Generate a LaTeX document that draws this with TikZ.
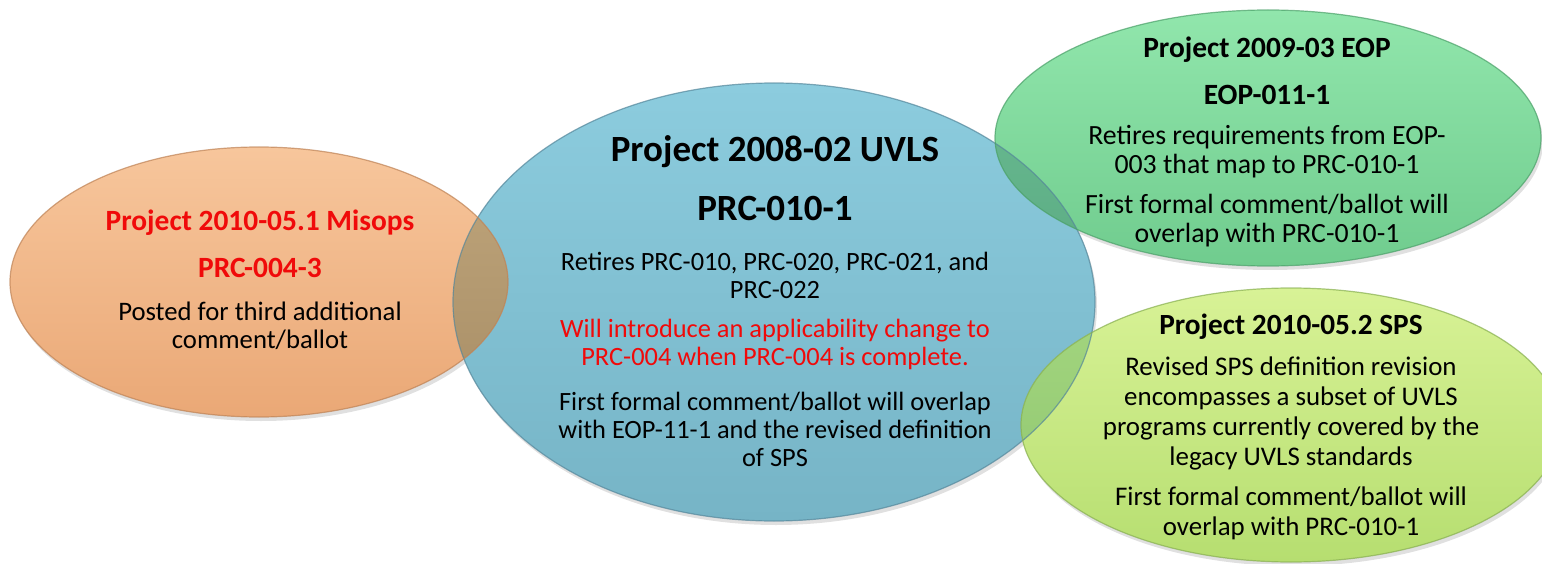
\documentclass[tikz,border=0pt]{standalone}
\usepackage{fontspec}
\setmainfont{Carlito}
\definecolor{orT}{RGB}{247,198,156}
\definecolor{orB}{RGB}{234,168,118}
\definecolor{orE}{RGB}{190,130,85}
\definecolor{blT}{RGB}{140,204,222}
\definecolor{blB}{RGB}{118,180,198}
\definecolor{blE}{RGB}{85,135,155}
\definecolor{grT}{RGB}{145,230,172}
\definecolor{grB}{RGB}{112,204,142}
\definecolor{grE}{RGB}{75,160,105}
\definecolor{liT}{RGB}{216,242,150}
\definecolor{liB}{RGB}{182,222,112}
\definecolor{liE}{RGB}{135,175,80}
\definecolor{obT}{RGB}{192,166,124}
\definecolor{obB}{RGB}{168,142,102}
\definecolor{bgT}{RGB}{110,192,150}
\definecolor{bgB}{RGB}{92,172,132}
\definecolor{blmT}{RGB}{165,215,128}
\definecolor{blmB}{RGB}{140,196,110}
\definecolor{redtxt}{RGB}{240,10,10}
\tikzset{
  edge/.style={draw=#1, line width=1.2pt, draw opacity=0.7},
  shadowell/.style={fill=black, fill opacity=0.12},
  txt/.style={align=center, inner sep=0pt},
}
\begin{document}
\begin{tikzpicture}[x=1pt,y=-1pt]
\useasboundingbox (0,0) rectangle (1542,564);
% soft shadows
\path[shadowell] (261,286) ellipse [x radius=249, y radius=135];
\path[shadowell] (776,306) ellipse [x radius=321, y radius=219];
\path[shadowell] (1270,142) ellipse [x radius=273, y radius=128];
\path[shadowell] (1293,429) ellipse [x radius=270, y radius=137];
% ellipses
\path[top color=blT, bottom color=blB] (774,302) ellipse [x radius=321, y radius=219];
\path[top color=orT, bottom color=orB] (259,282) ellipse [x radius=249, y radius=135];
\path[top color=grT, bottom color=grB] (1268,138) ellipse [x radius=273, y radius=128];
\path[top color=liT, bottom color=liB] (1291,425) ellipse [x radius=270, y radius=137];
% overlaps
\begin{scope}
  \clip (774,302) ellipse [x radius=321, y radius=219];
  \path[top color=obT, bottom color=obB] (259,282) ellipse [x radius=249, y radius=135];
  \path[top color=bgT, bottom color=bgB] (1268,138) ellipse [x radius=273, y radius=128];
  \path[top color=blmT, bottom color=blmB] (1291,425) ellipse [x radius=270, y radius=137];
\end{scope}
% outlines
\path[edge=blE] (774,302) ellipse [x radius=321, y radius=219];
\path[edge=orE] (259,282) ellipse [x radius=249, y radius=135];
\path[edge=grE] (1268,138) ellipse [x radius=273, y radius=128];
\path[edge=liE] (1291,425) ellipse [x radius=270, y radius=137];
% orange texts
\node[txt, font={\bfseries\fontsize{29.4}{34}\selectfont}, text=redtxt] (o1) at (260,223) {Project 2010-05.1 Misops};
\node[txt, font={\bfseries\fontsize{29.4}{34}\selectfont}, text=redtxt] (o2) at (260,268) {PRC-004-3};
\node[txt, font={\fontsize{26.7}{28}\selectfont}] (o3) at (260,326) {Posted for third additional\\comment/ballot};
% blue texts
\node[txt, font={\bfseries\fontsize{37}{40}\selectfont}] (b1) at (775,152) {Project 2008-02 UVLS};
\node[txt, font={\bfseries\fontsize{37}{40}\selectfont}] (b2) at (775,208) {PRC-010-1};
\node[txt, font={\fontsize{26.4}{28}\selectfont}] (b3) at (775,275) {Retires PRC-010, PRC-020, PRC-021, and\\PRC-022};
\node[txt, font={\fontsize{26.4}{28}\selectfont}, text=redtxt] (b4) at (775,344) {Will introduce an applicability change to\\PRC-004 when PRC-004 is complete.};
\node[txt, font={\fontsize{26.4}{28}\selectfont}] (b5) at (775,429) {First formal comment/ballot will overlap\\with EOP-11-1 and the revised definition\\of SPS};
% green texts
\node[txt, font={\bfseries\fontsize{29.4}{34}\selectfont}] (g1) at (1267,50) {Project 2009-03 EOP};
\node[txt, font={\bfseries\fontsize{29.4}{34}\selectfont}] (g2) at (1267,95) {EOP-011-1};
\node[txt, font={\fontsize{27.8}{29}\selectfont}] (g3) at (1267,152) {Retires requirements from EOP-\\003 that map to PRC-010-1};
\node[txt, font={\fontsize{27.8}{29}\selectfont}] (g4) at (1267,221) {First formal comment/ballot will\\overlap with PRC-010-1};
% lime texts
\node[txt, font={\bfseries\fontsize{29.3}{34}\selectfont}] (l1) at (1291,327) {Project 2010-05.2 SPS};
\node[txt, font={\fontsize{26.9}{30}\selectfont}] (l2) at (1291,413) {Revised SPS definition revision\\encompasses a subset of UVLS\\programs currently covered by the\\legacy UVLS standards};
\node[txt, font={\fontsize{26.9}{30}\selectfont}] (l3) at (1291,513) {First formal comment/ballot will\\overlap with PRC-010-1};
\end{tikzpicture}
\end{document}
